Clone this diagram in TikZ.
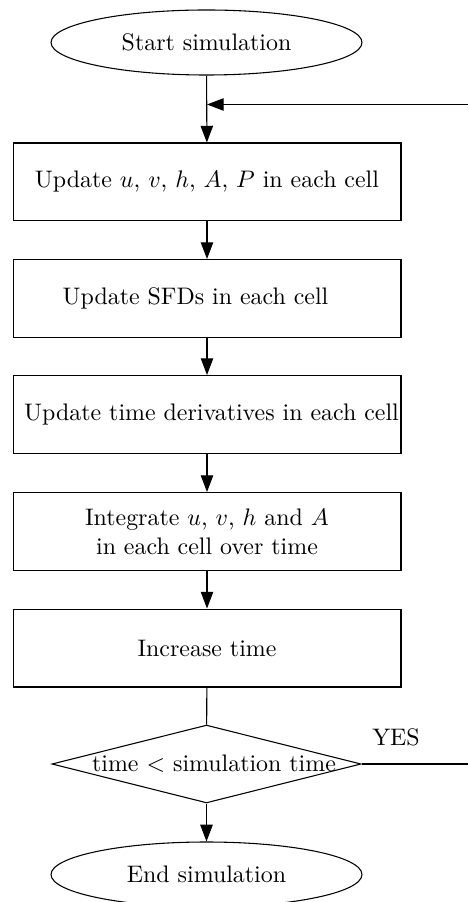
\documentclass[tikz,border=0pt]{standalone}
\usetikzlibrary{shapes.geometric,arrows.meta}
\begin{document}
\begin{tikzpicture}[x=0.4184pt,y=-0.4184pt,
  line width=0.45pt,
  arr/.style={-{Triangle[length=7pt,width=5.2pt]}},
  procbox/.style={draw,rectangle,minimum width=162.3pt,minimum height=32.6pt,inner sep=0pt,align=center},
  termell/.style={draw,ellipse,minimum width=130.1pt,minimum height=27.2pt,inner sep=0pt},
  decis/.style={draw,diamond,minimum width=129.3pt,minimum height=32.6pt,inner sep=0pt}]
\useasboundingbox (0,0) rectangle (468,902);
\node[termell] (start) at (206.5,42.5) {Start simulation};
\node[procbox] (b1) at (207,182) {Update $u$, $v$, $h$, $A$, $P$ in each cell};
\node[procbox] (b2) at (207,298.5) {Update SFDs in each cell\hspace{9.6pt}};
\node[procbox] (b3) at (207,414.5) {\hspace{3.8pt}Update time derivatives in each cell};
\node[procbox] (b4) at (207,531.5) {Integrate $u$, $v$, $h$ and $A$\\in each cell over time};
\node[procbox] (b5) at (207,648) {Increase time};
\node[decis] (dec) at (206.5,764) {};
\node (dect) at (214,764) {time $<$ simulation time};
\node[termell] (end) at (206.5,874.5) {End simulation};
\coordinate (join) at (207,104.5);
\coordinate (fbr) at (468,104.5);
\coordinate (yesr) at (468,764);
\node (yes) at (396,737) {YES};
\draw[arr] (start) -- (b1);
\draw[arr] (fbr) -- (join);
\draw[arr] (b1) -- (b2);
\draw[arr] (b2) -- (b3);
\draw[arr] (b3) -- (b4);
\draw[arr] (b4) -- (b5);
\draw (b5) -- (dec);
\draw[arr] (dec) -- (end);
\draw (dec.east) -- (yesr);
\end{tikzpicture}
\end{document}
